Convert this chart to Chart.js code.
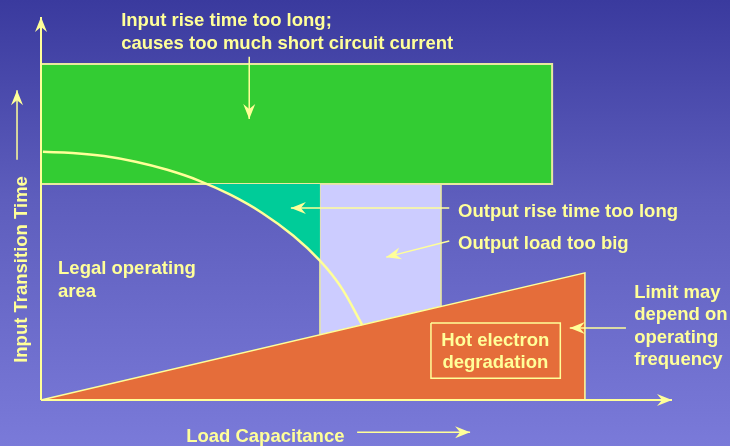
<!DOCTYPE html>
<html>
<head>
  <title>Input Transition Time vs Load Capacitance</title>
  <script src="https://cdn.jsdelivr.net/npm/chart.js"></script>
  <style>
    html, body {
      margin: 0;
      padding: 0;
      background: linear-gradient(to bottom, #3a3a9e 0%, #5e5ebd 45%, #7a7ad9 100%);
      width: 730px;
      height: 446px;
      overflow: hidden;
    }
    canvas { display: block; }
  </style>
</head>
<body>
  <canvas id="regionChart" width="730" height="446"></canvas>

  <script>
    // axis units: load capacitance 0..10, input transition time 0..10
    const axisX = [[0, 0], [10, 0]];
    const axisY = [[0, 0], [0, 10]];

    const shortCircuitBox = [[0, 8.77], [8.10, 8.77], [8.10, 5.64], [0, 5.64]];
    const outputLoadBox = [[4.42, 5.64], [6.34, 5.64], [6.34, 2.44], [4.42, 1.70]];
    const riseTimeArea = [[2.63, 5.64], [2.8, 5.52], [3.0, 5.36], [3.25, 5.14], [3.5, 4.89],
                          [3.75, 4.61], [4.0, 4.29], [4.2, 4.00], [4.42, 3.64], [4.42, 5.64]];
    const hotElectron = [[0, 0], [8.62, 3.32], [8.62, 0]];
    const hotElectronBox = [[6.18, 2.01], [8.23, 2.01], [8.23, 0.57], [6.18, 0.57]];

    // limit curve
    const limitCurve = [[0.03, 6.48], [0.5, 6.45], [1.0, 6.37], [1.5, 6.22], [2.0, 6.01],
                        [2.5, 5.73], [3.0, 5.36], [3.5, 4.89], [4.0, 4.29], [4.42, 3.64],
                        [4.75, 2.96], [5.09, 1.96]];

    // arrows: tail -> tip
    const arrowShortCircuit = [[3.30, 8.96], [3.30, 7.34]];
    const arrowRiseTime = [[6.47, 5.01], [3.96, 5.01]];
    const arrowLoad = [[6.47, 4.15], [5.47, 3.73]];
    const arrowLimit = [[9.27, 1.88], [8.38, 1.88]];
    const arrowYLabel = [[-0.38, 6.27], [-0.38, 8.09]];
    const arrowXLabel = [[5.01, -0.84], [6.80, -0.84]];

    const notes = [
      { text: "Input rise time too long;", at: [1.27, 9.77] },
      { text: "causes too much short circuit current", at: [1.27, 9.16] },
      { text: "Legal operating", at: [0.27, 3.29] },
      { text: "area", at: [0.27, 2.69] },
      { text: "Output rise time too long", at: [6.61, 4.78] },
      { text: "Output load too big", at: [6.61, 3.94] },
      { text: "Hot electron", at: [7.20, 1.41], align: "center" },
      { text: "degradation", at: [7.20, 0.84], align: "center" },
      { text: "Limit may", at: [9.40, 2.66] },
      { text: "depend on", at: [9.40, 2.09] },
      { text: "operating", at: [9.40, 1.49] },
      { text: "frequency", at: [9.40, 0.91] },
      { text: "Load Capacitance", at: [2.30, -1.10] },
      { text: "Input Transition Time", at: [-0.22, 0.97], rotate: true }
    ];

    const yellow = "#ffff99";

    function pts(list) {
      return list.map(p => ({ x: p[0], y: p[1] }));
    }

    function shape(data, fillColor, lineColor, width) {
      return {
        data: pts(data),
        showLine: true,
        fill: fillColor ? "shape" : false,
        backgroundColor: fillColor || "transparent",
        borderColor: lineColor,
        borderWidth: width,
        pointRadius: 0,
        tension: 0,
        clip: false
      };
    }

    function closed(list) {
      return list.concat([list[0]]);
    }

    function arrow(data, width) {
      const ds = shape(data, null, yellow, width);
      ds.arrow = true;
      return ds;
    }

    const curveSet = shape(limitCurve, null, yellow, 2.5);
    curveSet.tension = 0.4;

    // first dataset is drawn on top
    const datasets = [
      arrow(arrowXLabel, 1.5),
      arrow(arrowYLabel, 1.5),
      arrow(arrowLimit, 1.5),
      arrow(arrowLoad, 1.5),
      arrow(arrowRiseTime, 1.5),
      arrow(arrowShortCircuit, 1.5),
      arrow(axisX, 2),
      arrow(axisY, 2),
      shape(closed(hotElectronBox), null, yellow, 1.5),
      curveSet,
      shape(closed(hotElectron), "#e56d3a", yellow, 1.5),
      shape(closed(riseTimeArea), "#00cc99", "rgba(0,0,0,0)", 0),
      shape(closed(outputLoadBox), "#ccccff", "#e8e8a0", 1.5),
      shape(closed(shortCircuitBox), "#33cc33", "#e8e8a0", 2)
    ];

    const arrowHeads = {
      id: "arrowHeads",
      afterDatasetsDraw(chart) {
        const ctx = chart.ctx;
        chart.data.datasets.forEach((ds, i) => {
          if (!ds.arrow) return;
          const el = chart.getDatasetMeta(i).data;
          const a = el[el.length - 2], b = el[el.length - 1];
          const ang = Math.atan2(b.y - a.y, b.x - a.x);
          ctx.save();
          ctx.translate(b.x, b.y);
          ctx.rotate(ang);
          ctx.fillStyle = yellow;
          ctx.beginPath();
          ctx.moveTo(0, 0);
          ctx.lineTo(-15, -6);
          ctx.lineTo(-10, 0);
          ctx.lineTo(-15, 6);
          ctx.closePath();
          ctx.fill();
          ctx.restore();
        });
      }
    };

    const noteText = {
      id: "noteText",
      afterDatasetsDraw(chart) {
        const ctx = chart.ctx;
        const sx = chart.scales.x, sy = chart.scales.y;
        ctx.save();
        ctx.fillStyle = yellow;
        ctx.font = "bold 18.5px 'Liberation Sans', Arial, sans-serif";
        ctx.textBaseline = "alphabetic";
        notes.forEach(n => {
          const px = sx.getPixelForValue(n.at[0]);
          const py = sy.getPixelForValue(n.at[1]);
          ctx.save();
          ctx.translate(px, py);
          if (n.rotate) ctx.rotate(-Math.PI / 2);
          ctx.textAlign = n.align || "left";
          ctx.fillText(n.text, 0, 0);
          ctx.restore();
        });
        ctx.restore();
      }
    };

    new Chart(document.getElementById("regionChart").getContext("2d"), {
      type: "scatter",
      data: { datasets: datasets },
      options: {
        responsive: false,
        animation: false,
        devicePixelRatio: 1,
        layout: { padding: { left: 41, right: 58, top: 17, bottom: 46 } },
        plugins: { legend: { display: false }, tooltip: { enabled: false } },
        scales: {
          x: { type: "linear", min: 0, max: 10, display: false },
          y: { type: "linear", min: 0, max: 10, display: false }
        }
      },
      plugins: [arrowHeads, noteText]
    });
  </script>
</body>
</html>
